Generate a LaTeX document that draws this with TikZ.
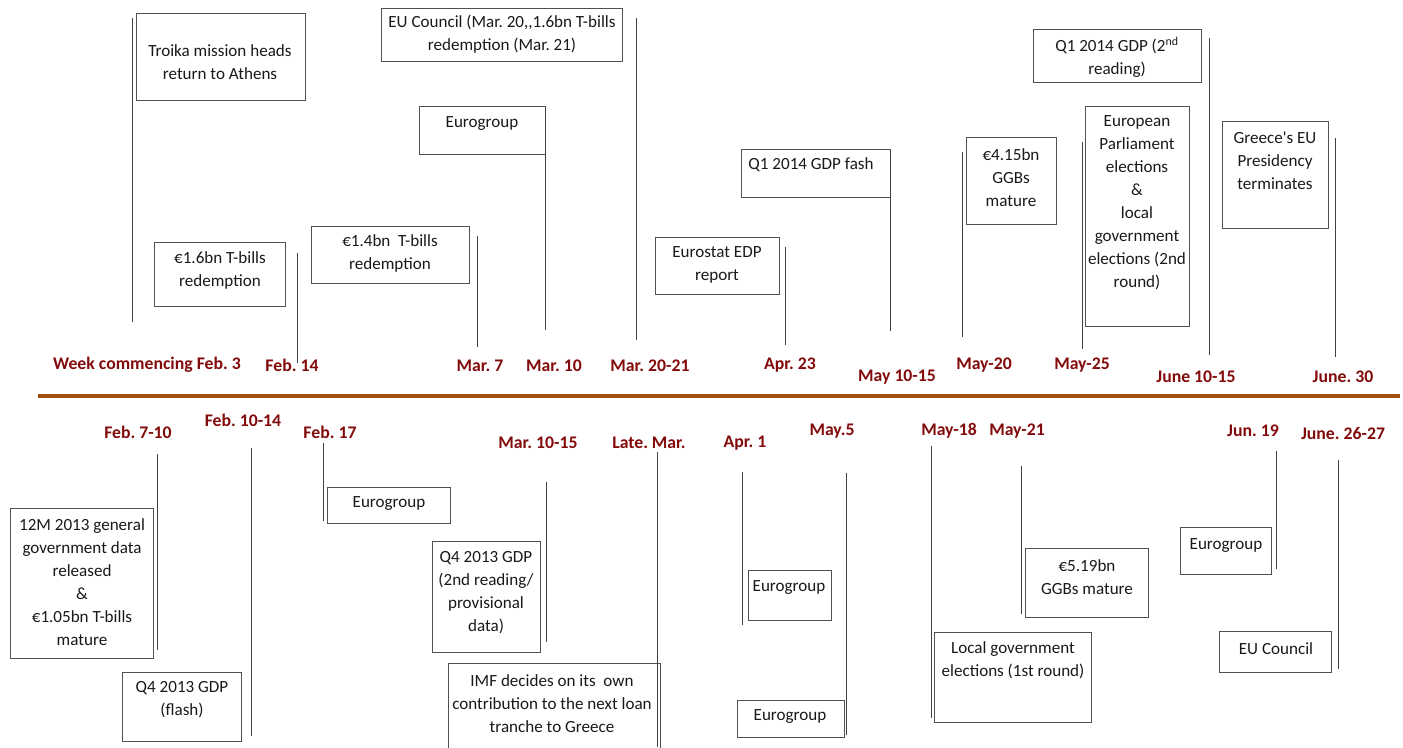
\documentclass[tikz,border=0pt]{standalone}
\usepackage{fontspec}
\setmainfont{Carlito}
\usetikzlibrary{fit}
\frenchspacing
\definecolor{axisbrown}{RGB}{160,78,10}
\definecolor{datered}{RGB}{130,10,10}
\definecolor{boxgray}{RGB}{80,80,80}
\tikzset{
  evbox/.style={draw=boxgray, line width=0.7pt, inner sep=0pt},
  evtext/.style={align=center, font=\fontsize{12.8}{17.25}\selectfont\frenchspacing, inner sep=0pt, text=black!90},
  datelbl/.style={font=\fontsize{13.3}{14}\selectfont\bfseries\frenchspacing, text=datered, inner sep=0pt},
  stem/.style={draw=black!75, line width=0.6pt},
  axisline/.style={draw=axisbrown, line width=2.6pt}
}
\begin{document}
\begin{tikzpicture}[x=0.75pt, y=-0.75pt]
\useasboundingbox (0,0) rectangle (1403,747);
% axis
\coordinate (axL) at (38,396);
\coordinate (axR) at (1400,396);
\draw[axisline] (axL) -- (axR);

% ---------- top boxes ----------
\node[evbox, fit={(136,13)(305,100)}] (troika) {};
\node[evtext] (troikaT) at (220,62) {Troika mission heads\\return to Athens};
\draw[stem] (132,18) -- (132,322);

\node[evbox, fit={(154,242)(285,306)}] (tb16) {};
\node[evtext] (tb16T) at (220,270) {€1.6bn T-bills\\redemption};
\draw[stem] (297,253) -- (297,363);

\node[evbox, fit={(311,226)(469,283)}] (tb14) {};
\node[evtext] (tb14T) at (390,253) {€1.4bn\ \ T-bills\\redemption};
\draw[stem] (477,236) -- (477,347);

\node[evbox, fit={(381,8)(622,61)}] (euc) {};
\node[evtext] (eucT) at (502,34) {EU Council (Mar. 20,{},1.6bn T-bills\\redemption (Mar. 21)};
\draw[stem] (636,18) -- (636,340);

\node[evbox, fit={(419,106)(545,154)}] (eg1) {};
\node[evtext] (eg1T) at (482,123) {Eurogroup};
\draw[stem] (545,108) -- (545,330);

\node[evbox, fit={(655,237)(779,294)}] (edp) {};
\node[evtext] (edpT) at (717,265) {Eurostat EDP\\report};
\draw[stem] (785,247) -- (785,345);

\node[evbox, fit={(741,149)(890,197)}] (q1f) {};
\node[evtext] (q1fT) at (811,165) {Q1 2014 GDP fash};
\draw[stem] (890,150) -- (890,331);

\node[evbox, fit={(966,137)(1056,224)}] (ggbA) {};
\node[evtext] (ggbAT) at (1011,178) {€4.15bn\\GGBs\\mature};
\draw[stem] (962,152) -- (962,337);

\node[evbox, fit={(1085,106)(1189,326)}] (ep) {};
\node[evtext] (epT) at (1137,203) {European\\Parliament\\elections\\\&\\local\\government\\elections (2nd\\round)};
\draw[stem] (1082,142) -- (1082,349);

\node[evbox, fit={(1033,29)(1201,82)}] (q1r) {};
\node[evtext] (q1rT) at (1117,57) {Q1 2014 GDP (2\textsuperscript{nd}\\reading)};
\draw[stem] (1209,38) -- (1209,355);

\node[evbox, fit={(1222,121)(1328,228)}] (pres) {};
\node[evtext] (presT) at (1275,161) {Greece\textquotesingle s EU\\Presidency\\terminates};
\draw[stem] (1335,138) -- (1335,357);

% ---------- top dates ----------
\node[datelbl] (d1) at (147,365) {Week commencing Feb. 3};
\node[datelbl] (d2) at (292,365) {Feb. 14};
\node[datelbl] (d3) at (480,366) {Mar. 7};
\node[datelbl] (d4) at (554,366) {Mar. 10};
\node[datelbl] (d5) at (650,366) {Mar. 20-21};
\node[datelbl] (d6) at (790,365) {Apr. 23};
\node[datelbl] (d7) at (897,377) {May 10-15};
\node[datelbl] (d8) at (984,365) {May-20};
\node[datelbl] (d9) at (1082,365) {May-25};
\node[datelbl] (d10) at (1196,377) {June 10-15};
\node[datelbl] (d11) at (1343,377) {June. 30};

% ---------- bottom dates ----------
\node[datelbl] (b1) at (138,432) {Feb. 7-10};
\node[datelbl] (b2) at (243,420) {Feb. 10-14};
\node[datelbl] (b3) at (330,432) {Feb. 17};
\node[datelbl] (b4) at (538,443) {Mar. 10-15};
\node[datelbl] (b5) at (649,443) {Late. Mar.};
\node[datelbl] (b6) at (745,443) {Apr. 1};
\node[datelbl] (b7) at (832,431) {May.5};
\node[datelbl] (b8) at (949,431) {May-18};
\node[datelbl] (b9) at (1017,431) {May-21};
\node[datelbl] (b10) at (1253,431) {Jun. 19};
\node[datelbl] (b11) at (1343,434) {June. 26-27};

% ---------- bottom boxes ----------
\node[evbox, fit={(10,508)(153,658)}] (m12) {};
\node[evtext] (m12T) at (82,582) {12M 2013 general\\government data\\released\\\&\\€1.05bn T-bills\\mature};
\draw[stem] (157,454) -- (157,650);

\node[evbox, fit={(122,672)(241,741)}] (q4f) {};
\node[evtext] (q4fT) at (182,700) {Q4 2013 GDP\\(flash)};
\draw[stem] (251,448) -- (251,736);

\node[evbox, fit={(327,487)(450,523)}] (eg2) {};
\node[evtext] (eg2T) at (389,503) {Eurogroup};
\draw[stem] (323,443) -- (323,521);

\node[evbox, fit={(432,541)(540,652)}] (q4r) {};
\node[evtext] (q4rT) at (486,593) {Q4 2013 GDP\\(2nd reading/\\provisional\\data)};
\draw[stem] (546,482) -- (546,642);

\node[evbox, fit={(448,663)(660,752)}] (imf) {};
\node[evtext] (imfT) at (552,704) {IMF decides on its\ \ own\\contribution to the next loan\\tranche to Greece};
\draw[stem] (657,452) -- (657,747);

\node[evbox, fit={(748,570)(831,620)}] (eg3) {};
\node[evtext] (eg3T) at (789,587) {Eurogroup};
\draw[stem] (742,472) -- (742,625);

\node[evbox, fit={(737,700)(844,737)}] (eg4) {};
\node[evtext] (eg4T) at (790,716) {Eurogroup};
\draw[stem] (846,473) -- (846,735);

\node[evbox, fit={(934,632)(1091,722)}] (lge) {};
\node[evtext] (lgeT) at (1013,660) {Local government\\elections (1st round)};
\draw[stem] (931,446) -- (931,718);

\node[evbox, fit={(1025,548)(1148,617)}] (ggbB) {};
\node[evtext] (ggbBT) at (1087,577) {€5.19bn\\GGBs mature};
\draw[stem] (1021,466) -- (1021,614);

\node[evbox, fit={(1180,527)(1271,574)}] (eg5) {};
\node[evtext] (eg5T) at (1226,545) {Eurogroup};
\draw[stem] (1276,451) -- (1276,569);

\node[evbox, fit={(1219,631)(1331,672)}] (euc2) {};
\node[evtext] (euc2T) at (1276,649) {EU Council};
\draw[stem] (1338,460) -- (1338,669);
\end{tikzpicture}
\end{document}
